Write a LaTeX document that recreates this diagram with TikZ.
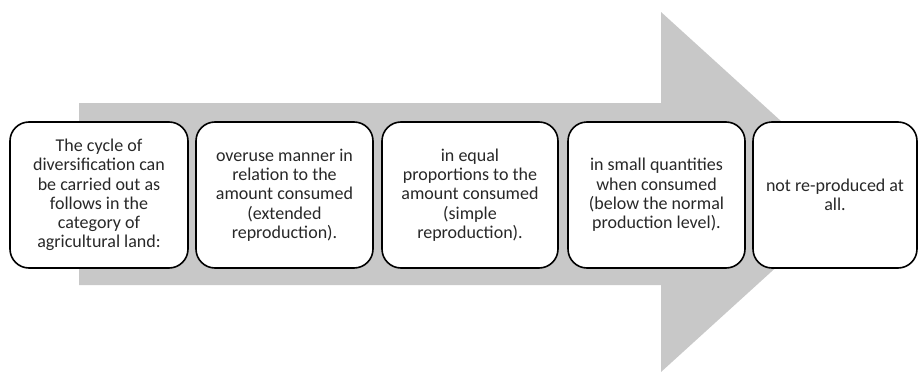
\documentclass[tikz,border=0pt]{standalone}
\usepackage{fontspec}
\setmainfont{Carlito}
\definecolor{arrowgray}{RGB}{200,200,200}
\definecolor{txt}{RGB}{40,40,40}
\begin{document}
\begin{tikzpicture}[x=1pt,y=-1pt,
  cardbox/.style={draw=black, line width=1.6pt, fill=white, rounded corners=19pt,
    minimum height=146pt, inner sep=0pt, align=center, text=txt,
    font=\fontsize{18}{19.3}\selectfont}]
\useasboundingbox (0,0) rectangle (919,372);
\fill[arrowgray] (79,103) -- (661,103) -- (661,12) -- (859,192) -- (661,372) -- (661,285) -- (79,285) -- cycle;
\node[cardbox, minimum width=178pt] (b1) at (99,195) {The cycle of\\diversification can\\be carried out as\\follows in the\\category of\\agricultural land:};
\node[cardbox, minimum width=177pt] (b2) at (284.5,195) {overuse manner in\\relation to the\\amount consumed\\(extended\\reproduction).};
\node[cardbox, minimum width=176pt] (b3) at (470,195) {in equal\\proportions to the\\amount consumed\\(simple\\reproduction).};
\node[cardbox, minimum width=177pt] (b4) at (656.5,195) {in small quantities\\when consumed\\(below the normal\\production level).};
\node[cardbox, minimum width=164pt] (b5) at (835,195) {not re-produced at\\all.};
\end{tikzpicture}
\end{document}
